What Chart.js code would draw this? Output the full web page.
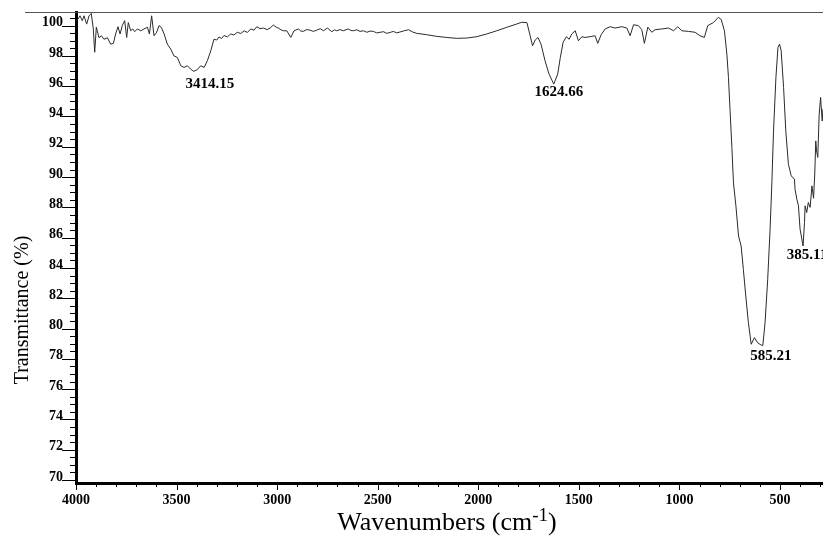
<!DOCTYPE html>
<html>
<head>
<meta charset="utf-8">
<script src="https://cdn.jsdelivr.net/npm/chart.js@4.4.1/dist/chart.umd.min.js"></script>
<style>
  html, body { margin: 0; padding: 0; background: #fff; }
  #wrap { width: 823px; height: 536px; position: relative; }
</style>
</head>
<body>
<div id="wrap"><canvas id="irChart"></canvas></div>
<script>
// FT-IR spectrum, transmittance vs wavenumber
const wavenumbers = [
  4000, 3990, 3980, 3969, 3960, 3947, 3935, 3924, 3914, 3907, 3899, 3886, 3874, 3861, 3844,
  3828, 3814, 3803, 3791, 3781, 3770, 3758, 3748, 3740, 3728, 3718, 3708, 3695, 3678, 3662,
  3645, 3635, 3624, 3612, 3599, 3587, 3576, 3562, 3546, 3529, 3513, 3496, 3479, 3463, 3446,
  3430, 3414.15, 3397, 3380, 3363, 3347, 3330, 3314, 3300, 3289, 3276, 3264, 3248, 3231, 3215,
  3198, 3181, 3164, 3148, 3131, 3115, 3101, 3085, 3068, 3050, 3035, 3019, 3005, 2994, 2980,
  2969, 2952, 2932, 2916, 2894, 2882, 2870, 2852, 2836, 2820, 2803, 2786, 2770, 2750, 2728,
  2715, 2704, 2688, 2671, 2646, 2633, 2621, 2605, 2588, 2570, 2554, 2538, 2521, 2505, 2488,
  2471, 2455, 2438, 2422, 2405, 2389, 2368, 2347, 2326, 2306, 2256, 2206,
  2157, 2107, 2057, 2007, 1958, 1908, 1858, 1808, 1784, 1758, 1742, 1730, 1717, 1703, 1688,
  1668, 1648, 1624.66, 1605, 1592, 1578, 1562, 1548, 1535, 1518, 1502, 1485, 1469, 1444, 1419,
  1406, 1389, 1369, 1344, 1320, 1286, 1261, 1245, 1228, 1204, 1187, 1174, 1157, 1137, 1121,
  1087, 1054, 1029, 1008, 988, 955, 922, 897, 876, 859, 831, 806, 792, 776, 764,
  756, 748, 739, 731, 719, 706, 693, 682, 670, 657, 643, 627, 610, 595, 585.21,
  574, 561, 549, 540, 532, 520, 510, 502, 494, 482, 471, 458, 444, 428, 425,
  416, 408, 400, 385.11, 378, 375, 367, 359, 350, 341, 333, 327, 322, 318, 312,
  305, 298, 290, 286
];
const transmittance = [
  100.3, 100.44, 100.65, 100.33, 100.65, 100.1, 100.65, 100.8, 99.78, 98.24, 99.9, 99.2, 99.33, 99.1, 99.2,
  98.78, 98.83, 99.45, 99.93, 99.45, 100.0, 100.33, 99.22, 100.2, 99.66, 99.78, 99.6, 99.78, 99.66, 99.78,
  99.89, 99.45, 100.65, 99.33, 99.56, 100.0, 99.89, 99.45, 98.78, 98.45, 98.0, 97.9, 97.35, 97.24, 97.35,
  97.13, 96.98, 97.1, 97.35, 97.24, 97.68, 98.34, 99.1, 99.05, 99.25, 99.15, 99.35, 99.25, 99.45, 99.38,
  99.56, 99.48, 99.66, 99.55, 99.78, 99.7, 99.93, 99.8, 99.84, 99.74, 99.84, 100.04, 99.9, 99.84, 99.72,
  99.66, 99.66, 99.22, 99.66, 99.78, 99.64, 99.62, 99.74, 99.7, 99.62, 99.7, 99.8, 99.66, 99.84, 99.6,
  99.72, 99.66, 99.74, 99.66, 99.78, 99.68, 99.66, 99.72, 99.62, 99.66, 99.56, 99.64, 99.62, 99.52, 99.56,
  99.6, 99.49, 99.55, 99.62, 99.52, 99.58, 99.66, 99.73, 99.58, 99.49, 99.4, 99.29,
  99.22, 99.16, 99.18, 99.27, 99.45, 99.66, 99.89, 100.11, 100.22, 100.2, 99.33, 98.67, 99.05, 99.22, 98.78,
  97.68, 96.8, 96.14, 96.8, 97.9, 98.9, 99.27, 99.1, 99.45, 99.66, 99.0, 99.27, 99.22, 99.27, 99.33,
  98.83, 99.4, 99.78, 99.93, 99.84, 99.93, 99.84, 99.33, 100.06, 100.0, 99.73, 98.83, 99.9, 99.56, 99.73,
  99.78, 99.84, 99.66, 99.93, 99.66, 99.62, 99.56, 99.33, 99.22, 100.0, 100.2, 100.55, 100.4, 99.66, 98.12,
  96.58, 94.38, 91.96, 89.6, 88.1, 86.11, 85.45, 83.91, 82.15, 80.39, 78.96, 79.4, 79.05, 78.92, 78.88,
  80.39, 83.25, 86.56, 89.7, 93.05, 96.58, 98.56, 98.78, 98.34, 95.92, 93.05, 90.85, 90.08, 89.86, 89.2,
  88.54, 88.1, 86.56, 85.45, 87.0, 88.1, 87.66, 88.32, 88.0, 89.42, 88.6, 90.2, 92.39, 91.73, 91.3,
  94.15, 95.26, 93.7, 94.5
];

// labelled absorption bands
const peakWavenumbers = [3414.15, 1624.66, 585.21, 385.11];
// label placement relative to the band minimum (px)
const peakLabelShift = [[16, 13], [5, 8], [8, 11], [4, 9]];

const xTickLabels = [4000, 3500, 3000, 2500, 2000, 1500, 1000, 500];
const yTickLabels = [70, 72, 74, 76, 78, 80, 82, 84, 86, 88, 90, 92, 94, 96, 98, 100];

const SERIF = '"Liberation Serif", "Times New Roman", serif';

// ticks, frame rule, axis titles and band labels
const spectrumDecor = {
    id: 'spectrumDecor',
    afterDraw(chart) {
        const { ctx, chartArea, scales: { x, y } } = chart;
        ctx.save();

        // thin rule along the top of the frame
        ctx.strokeStyle = '#555';
        ctx.lineWidth = 1;
        ctx.beginPath();
        ctx.moveTo(25, chartArea.top + 0.5);
        ctx.lineTo(chart.width, chartArea.top + 0.5);
        ctx.stroke();

        // y ticks: long under each label, short in between
        ctx.strokeStyle = '#000';
        y.ticks.forEach(t => {
            const py = Math.round(y.getPixelForValue(t.value)) + 0.5;
            const len = yTickLabels.includes(t.value) ? 14 : 6;
            ctx.beginPath();
            ctx.moveTo(chartArea.left - len, py);
            ctx.lineTo(chartArea.left, py);
            ctx.stroke();
        });

        // x ticks pointing down
        x.ticks.forEach(t => {
            const px = Math.round(x.getPixelForValue(t.value)) + 0.5;
            const len = xTickLabels.includes(t.value) ? 7 : 4;
            ctx.beginPath();
            ctx.moveTo(px, chartArea.bottom);
            ctx.lineTo(px, chartArea.bottom + len);
            ctx.stroke();
        });

        // band labels
        ctx.fillStyle = '#000';
        ctx.font = 'bold 15px ' + SERIF;
        ctx.textAlign = 'center';
        ctx.textBaseline = 'middle';
        peakWavenumbers.forEach((wn, i) => {
            const t = transmittance[wavenumbers.indexOf(wn)];
            const px = x.getPixelForValue(wn) + peakLabelShift[i][0];
            const py = y.getPixelForValue(t) + peakLabelShift[i][1];
            ctx.fillText(wn.toFixed(2), px, py);
        });

        // y axis title
        ctx.save();
        ctx.translate(23, 310);
        ctx.rotate(-Math.PI / 2);
        ctx.font = '20px ' + SERIF;
        ctx.fillText('Transmittance (%)', 0, 0);
        ctx.restore();

        // x axis title with superscript
        const base = 'Wavenumbers (cm';
        const sup = '-1';
        ctx.textAlign = 'left';
        ctx.textBaseline = 'alphabetic';
        ctx.font = '26px ' + SERIF;
        const wBase = ctx.measureText(base).width;
        const wClose = ctx.measureText(')').width;
        ctx.font = '19px ' + SERIF;
        const wSup = ctx.measureText(sup).width;
        let tx = 447 - (wBase + wSup + wClose) / 2;
        const baseline = 530;
        ctx.font = '26px ' + SERIF;
        ctx.fillText(base, tx, baseline);
        tx += wBase;
        ctx.font = '19px ' + SERIF;
        ctx.fillText(sup, tx, baseline - 9);
        tx += wSup;
        ctx.font = '26px ' + SERIF;
        ctx.fillText(')', tx, baseline);

        ctx.restore();
    }
};

const ctx = document.getElementById('irChart').getContext('2d');
new Chart(ctx, {
    type: 'line',
    data: {
        datasets: [{
            label: 'Transmittance',
            data: wavenumbers.map((wn, i) => ({ x: wn, y: transmittance[i] })),
            borderColor: '#2a2a2a',
            borderWidth: 1,
            pointRadius: 0,
            tension: 0,
            fill: false
        }]
    },
    options: {
        responsive: true,
        maintainAspectRatio: false,
        animation: false,
        layout: { padding: { top: 12, right: 0, left: 0, bottom: 0 } },
        plugins: {
            legend: { display: false },
            tooltip: { enabled: false }
        },
        scales: {
            x: {
                type: 'linear',
                reverse: true,
                min: 286,
                max: 4000,
                afterBuildTicks: scale => {
                    const ticks = [];
                    for (let v = 4000; v >= 300; v -= 100) ticks.push({ value: v });
                    scale.ticks = ticks;
                },
                afterFit: scale => {
                    scale.height = 53;
                    scale.paddingLeft = 0;
                    scale.paddingRight = 0;
                },
                grid: { drawOnChartArea: false, drawTicks: false },
                border: { display: true, width: 3, color: '#000' },
                ticks: {
                    autoSkip: false,
                    maxRotation: 0,
                    padding: 9,
                    color: '#000',
                    font: { family: SERIF, size: 14, weight: 'bold' },
                    callback: v => (xTickLabels.includes(v) ? String(v) : '')
                }
            },
            y: {
                type: 'linear',
                min: 69.8,
                max: 100.9,
                afterBuildTicks: scale => {
                    const ticks = [];
                    for (let v = 70; v <= 100.5; v += 0.5) ticks.push({ value: v });
                    scale.ticks = ticks;
                },
                afterFit: scale => {
                    scale.width = 76;
                    scale.paddingTop = 0;
                    scale.paddingBottom = 0;
                },
                grid: { drawOnChartArea: false, drawTicks: false },
                border: { display: true, width: 3, color: '#000' },
                ticks: {
                    autoSkip: false,
                    padding: 13,
                    labelOffset: -3,
                    color: '#000',
                    font: { family: SERIF, size: 14, weight: 'bold' },
                    callback: v => (yTickLabels.includes(v) ? String(v) : '')
                }
            }
        }
    },
    plugins: [spectrumDecor]
});
</script>
</body>
</html>
